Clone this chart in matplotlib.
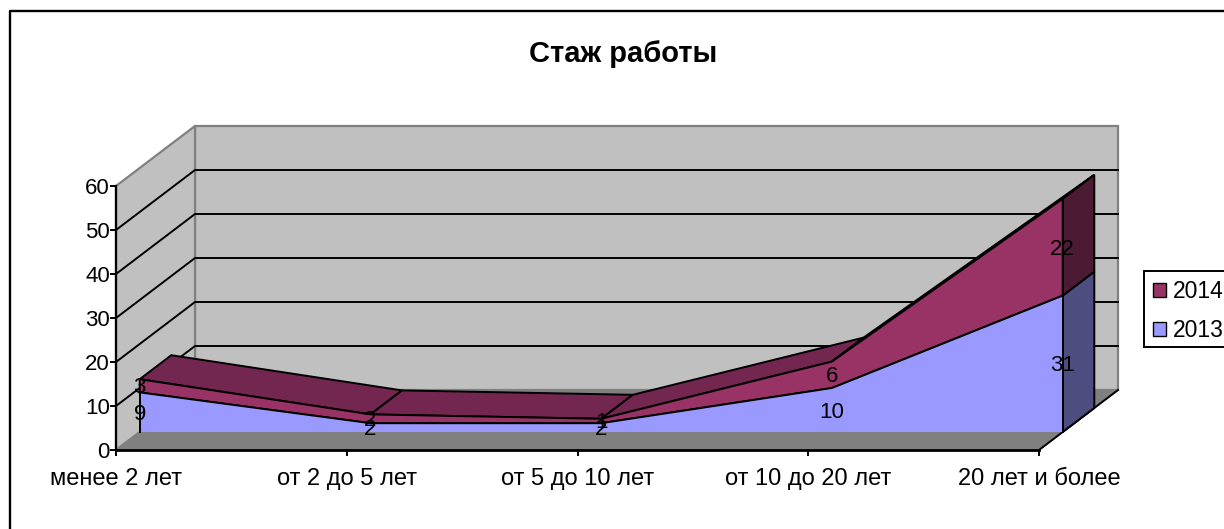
import matplotlib
matplotlib.use('Agg')
import matplotlib.pyplot as plt
from matplotlib.patches import Patch, Polygon, Rectangle

plt.rcParams['font.family'] = ['Liberation Sans', 'DejaVu Sans']

categories = ['менее 2 лет', 'от 2 до 5 лет', 'от 5 до 10 лет', 'от 10 до 20 лет', '20 лет и более']
values_2013 = [9, 2, 2, 10, 31]
values_2014 = [3, 2, 1, 6, 22]
y_ticks = [0, 10, 20, 30, 40, 50, 60]

# pixel geometry of the fake 3D box
X0, Y0 = 116, 450
PX_CAT = 230.75
PX_VAL = 4.4
DEPTH_X, DEPTH_Y = 79, 60
FRONT, BACK = 0.3, 0.7
TEXT_DROP = 2 / PX_VAL  # text sits a bit lower than matplotlib centres it
X_MAX = len(categories) - 1
Y_MAX = y_ticks[-1]


def proj(x, v, d=0.0):
    # category x, value v, depth d (0 front, 1 back) -> axes data coords
    return x + d * DEPTH_X / PX_CAT, v + d * DEPTH_Y / PX_VAL


def face(points, color, edge='black', lw=1.4, z=1):
    ax.add_patch(Polygon([proj(*p) for p in points], closed=True, facecolor=color,
                         edgecolor=edge, linewidth=lw, joinstyle='miter', zorder=z))


fig = plt.figure(figsize=(12.24, 5.29), dpi=100)
ax = fig.add_axes([0, 0, 1, 1])
ax.set_xlim(-X0 / PX_CAT, (1224 - X0) / PX_CAT)
ax.set_ylim((Y0 - 529) / PX_VAL, Y0 / PX_VAL)
ax.axis('off')

# outer border, only top and left fall inside the picture
ax.plot([1, 10 / 1224, 10 / 1224], [1 - 11 / 529, 1 - 11 / 529, 0], transform=ax.transAxes,
        color='black', lw=1.7, clip_on=False)

# walls and floor
face([(0, 0, 1), (X_MAX, 0, 1), (X_MAX, Y_MAX, 1), (0, Y_MAX, 1)], '#c0c0c0', '#808080', 1.6)
face([(0, 0, 0), (0, 0, 1), (0, Y_MAX, 1), (0, Y_MAX, 0)], '#c0c0c0', '#808080', 1.6)
face([(0, 0, 0), (X_MAX, 0, 0), (X_MAX, 0, 1), (0, 0, 1)], '#808080', '#808080', 1.0)

for t in y_ticks[1:-1]:
    xs, ys = zip(proj(0, t, 0), proj(0, t, 1), proj(X_MAX, t, 1))
    ax.plot(xs, ys, color='black', lw=1.4, zorder=1.5)

# axes lines, ticks and tick labels
ax.plot([0, X_MAX], [0, 0], color='black', lw=2, zorder=2)
ax.plot([0, 0], [0, Y_MAX], color='black', lw=1.6, zorder=2)
xs, ys = zip(proj(X_MAX, 0, 0), proj(X_MAX, 0, 1))
ax.plot(xs, ys, color='black', lw=1.4, zorder=2)
for t in y_ticks:
    ax.plot([-5 / PX_CAT, 0], [t, t], color='black', lw=1.4, zorder=2)
    ax.text(-6 / PX_CAT, t - TEXT_DROP, str(t), ha='right', va='center', fontsize=16)
for i, c in enumerate(categories):
    ax.plot([i, i], [0, -5 / PX_VAL], color='black', lw=1.4, zorder=2)
    ax.text(i, -27 / PX_VAL - TEXT_DROP, c, ha='center', va='center', fontsize=17)

# stacked areas
tops_2013 = values_2013
tops_2014 = [a + b for a, b in zip(values_2013, values_2014)]
n = len(categories)

for i in range(n - 1):
    face([(i, tops_2014[i], FRONT), (i + 1, tops_2014[i + 1], FRONT),
          (i + 1, tops_2014[i + 1], BACK), (i, tops_2014[i], BACK)], '#732650', z=3)

last = n - 1
face([(last, 0, FRONT), (last, 0, BACK), (last, tops_2013[last], BACK), (last, tops_2013[last], FRONT)],
     '#4d4d80', z=3)
face([(last, tops_2013[last], FRONT), (last, tops_2013[last], BACK),
      (last, tops_2014[last], BACK), (last, tops_2014[last], FRONT)], '#4d1a33', z=3)

front_2014 = [(i, tops_2014[i], FRONT) for i in range(n)] + [(i, tops_2013[i], FRONT) for i in range(last, -1, -1)]
face(front_2014, '#993366', z=4)
front_2013 = [(i, tops_2013[i], FRONT) for i in range(n)] + [(last, 0, FRONT), (0, 0, FRONT)]
ax.add_patch(Polygon([proj(*p) for p in front_2013], closed=True, facecolor='#9999ff',
                     edgecolor='none', zorder=4))
xs, ys = zip(*[proj(*p) for p in front_2013[:n]])
ax.plot(xs, ys, color='black', lw=1.4, zorder=5)
for i in (0, last):
    xs, ys = zip(proj(i, 0, FRONT), proj(i, tops_2013[i], FRONT))
    ax.plot(xs, ys, color='black', lw=1.4, zorder=5)

# data labels at the middle of each band
for i in range(n):
    x, y = proj(i, values_2013[i] / 2, FRONT)
    ax.text(x, y - TEXT_DROP, str(values_2013[i]), ha='center', va='center', fontsize=16, zorder=6)
    x, y = proj(i, tops_2013[i] + values_2014[i] / 2, FRONT)
    ax.text(x, y - TEXT_DROP, str(values_2014[i]), ha='center', va='center', fontsize=16, zorder=6)

ax.text(0.509, 0.898, 'Стаж работы', transform=ax.transAxes, ha='center', va='center',
        fontsize=21, fontweight='bold')

# legend frame runs off the right edge, so it is drawn apart from the legend rows
ax.add_patch(Rectangle((1144 / 1224, 1 - 347 / 529), 100 / 1224, 76 / 529, transform=ax.transAxes,
                       facecolor='white', edgecolor='black', linewidth=1.4, zorder=7))
handles = [Patch(facecolor='#993366', edgecolor='black', label='2014'),
           Patch(facecolor='#9999ff', edgecolor='black', label='2013')]
leg = ax.legend(handles=handles, loc='center left', bbox_to_anchor=(1153 / 1224, 1 - 311 / 529),
                fontsize=16.5, frameon=False,
                handlelength=0.57, handleheight=0.57, handletextpad=0.3, labelspacing=0.68,
                borderaxespad=0, borderpad=0)
leg.set_zorder(8)

fig.savefig('out.png', dpi=100)
